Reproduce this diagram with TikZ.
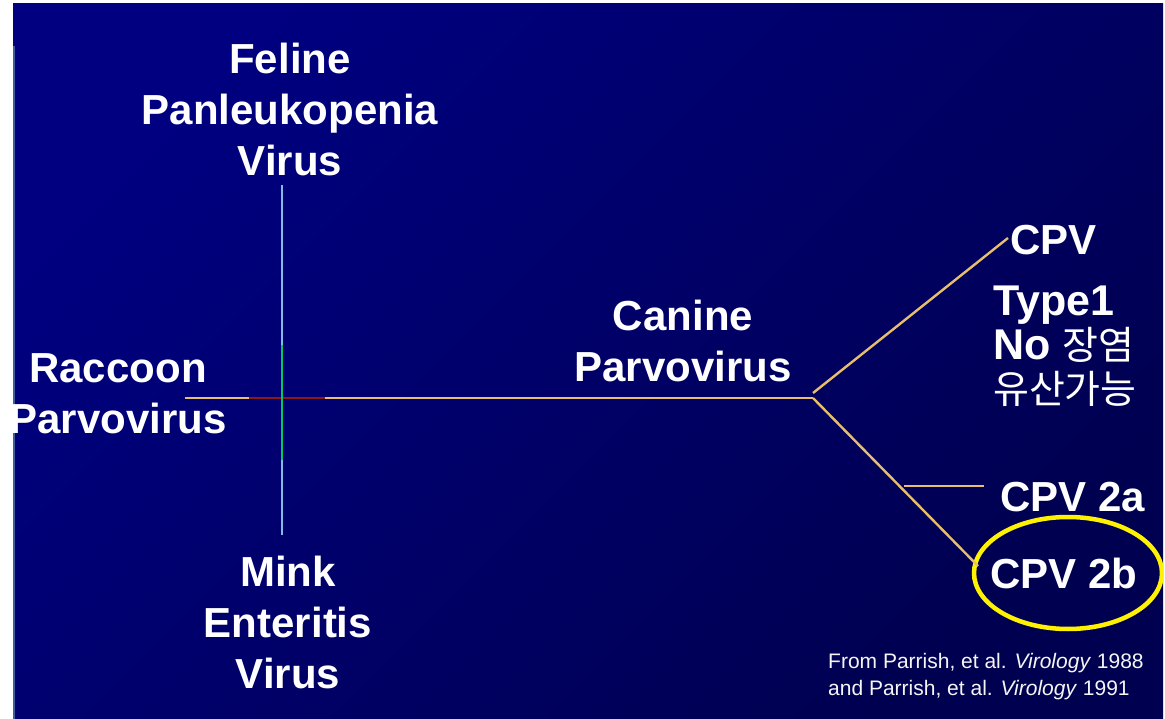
\documentclass[tikz,border=0pt]{standalone}
\usepackage{fontspec}
\setmainfont{Liberation Sans}
\newfontfamily\krfont{Noto Sans CJK KR}
\usepackage{tikz}
\usetikzlibrary{positioning, shapes.geometric}
\definecolor{slideNavy}{RGB}{0, 0, 128}
\definecolor{slideDeep}{RGB}{0, 0, 80}
\definecolor{edgeBlue}{RGB}{62, 92, 160}
\definecolor{branchTan}{RGB}{230, 190, 108}
\definecolor{crossRed}{RGB}{140, 24, 24}
\definecolor{stemBlue}{RGB}{130, 186, 230}
\definecolor{stemGreen}{RGB}{0, 200, 100}
\definecolor{ringYellow}{RGB}{255, 242, 0}
\tikzset{
  virusbox/.style={text=white, align=center, inner sep=0pt,
                   font=\fontsize{42}{51}\selectfont\bfseries},
  strainbox/.style={text=white, inner sep=0pt, anchor=west,
                    font=\fontsize{42}{51}\selectfont\bfseries},
  notebox/.style={text=white, align=left, inner sep=0pt, anchor=west,
                  font=\fontsize{43}{44}\selectfont},
  citebox/.style={text=white!92!gray, align=left, inner sep=0pt, anchor=west,
                  font=\fontsize{21}{27}\selectfont},
  branch/.style={draw=branchTan, line width=2.4pt},
}
\newcommand{\kor}[1]{{\krfont\mdseries\fontsize{39}{44}\selectfont #1}}

\begin{document}
\begin{tikzpicture}[x=1pt, y=-1pt]
    % Slide background
    \fill[white] (0,0) rectangle (1165,719);
    \useasboundingbox (0,0) rectangle (1165,719);
    \shade[top color=slideNavy, bottom color=slideDeep, shading angle=45]
          (13,4) rectangle (1163,719);
    \draw[edgeBlue, line width=1.5pt] (14,46) -- (14,719);

    \begin{scope}
    \clip (13,4) rectangle (1163,719);

    % Virus labels
    \node[virusbox] (fpv) at (290,109) {Feline\\Panleukopenia\\Virus};
    \node[virusbox] (mev) at (288,622) {Mink\\Enteritis\\Virus};
    \node[virusbox] (rpv) at (118,394) {Raccoon\\Parvovirus};
    \node[virusbox] (cpv) at (683,341) {Canine\\Parvovirus};

    \node[strainbox] (cpv1) at (1010,240) {CPV};
    \node[strainbox] (cpv2a) at (1000,497) {CPV 2a};
    \node[strainbox] (cpv2b) at (990,573) {CPV 2b};

    \node[notebox] (type1) at (993,346)
         {\bfseries Type1\\\bfseries No \kor{장염}\\\kor{유산가능}};

    \node[draw=ringYellow, line width=4.5pt, ellipse,
          minimum width=188pt, minimum height=112pt] (ring) at (1068,573) {};

    \node[citebox] (cite) at (828,677)
         {From Parrish, et al. \textit{Virology} 1988\\and Parrish, et al. \textit{Virology} 1991};

    % Junction points
    \coordinate (rpvEnd) at (185,398);
    \coordinate (redL) at (249,398);
    \coordinate (redR) at (325,398);
    \coordinate (hub) at (813,398);
    \coordinate (hubUp) at (813,393);
    \coordinate (fpvEnd) at (282,185);
    \coordinate (mevEnd) at (282,535);
    \coordinate (greenT) at (282,345);
    \coordinate (greenB) at (282,460);
    \coordinate (cpv1Tip) at (1008,238);
    \coordinate (cpv2bTip) at (978,566);
    \coordinate (forkA) at (904,486);
    \coordinate (cpv2aTip) at (984,486);

    % Connections
    \draw[branch] (rpvEnd) -- (hub);
    \draw[crossRed, line width=2.4pt] (redL) -- (redR);
    \draw[stemBlue, line width=2.6pt] (fpvEnd) -- (mevEnd);
    \draw[stemGreen, line width=2.6pt] (greenT) -- (greenB);
    \draw[branch] (hubUp) -- (cpv1Tip);
    \draw[branch] (hub) -- (cpv2bTip);
    \draw[branch] (forkA) -- (cpv2aTip);
    \end{scope}
\end{tikzpicture}
\end{document}
